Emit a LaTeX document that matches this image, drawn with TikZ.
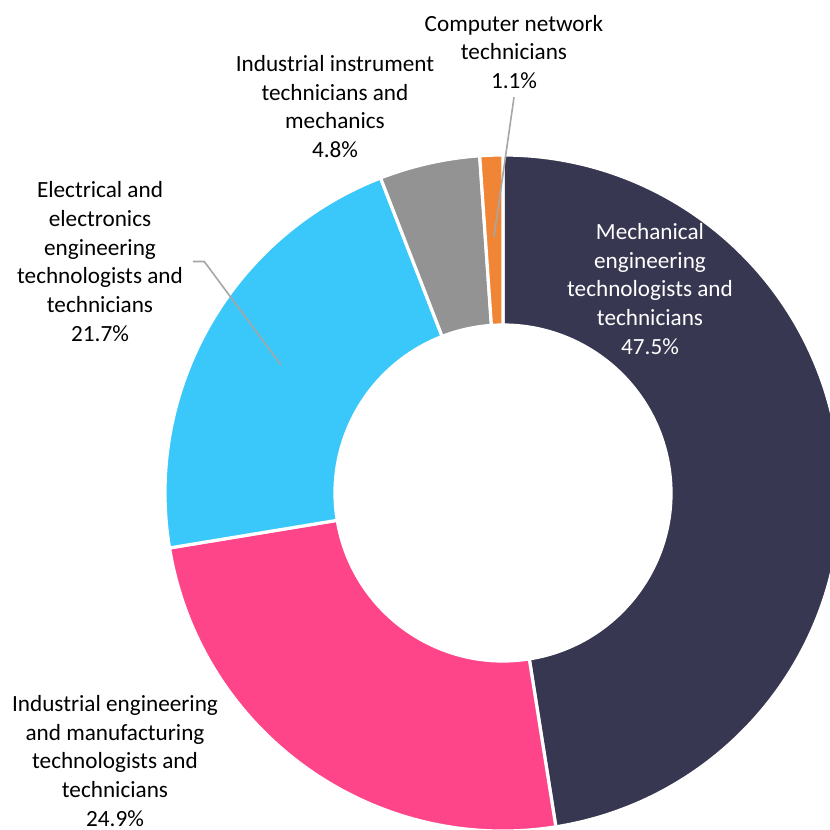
\documentclass[tikz,border=0pt]{standalone}
\usepackage{fontspec}
\setmainfont{Carlito}
\usepackage{xcolor}

\definecolor{mechnavy}{HTML}{373751}
\definecolor{indpink}{HTML}{FF4589}
\definecolor{elecblue}{HTML}{3AC8FA}
\definecolor{instrgray}{HTML}{939393}
\definecolor{comporange}{HTML}{EF8535}

\tikzset{
  slice/.style={draw=white, line width=1.6pt, line join=round},
  lbl/.style={align=center, inner sep=0pt, font=\fontsize{11.6}{14.35}\selectfont},
  leader/.style={draw=black!35, line width=0.8pt}
}

\begin{document}
\begin{tikzpicture}[x=0.5pt,y=0.5pt]
\useasboundingbox (0,0) rectangle (830,830);

\coordinate (C) at (503,337);

\fill[slice,fill=mechnavy] ([shift={(90:338)}]C) arc[start angle=90,end angle=-81,radius=338]
  -- ([shift={(-81:168)}]C) arc[start angle=-81,end angle=90,radius=168] -- cycle;
\fill[slice,fill=indpink] ([shift={(-81:338)}]C) arc[start angle=-81,end angle=-170.64,radius=338]
  -- ([shift={(-170.64:168)}]C) arc[start angle=-170.64,end angle=-81,radius=168] -- cycle;
\fill[slice,fill=elecblue] ([shift={(-170.64:338)}]C) arc[start angle=-170.64,end angle=-248.76,radius=338]
  -- ([shift={(-248.76:168)}]C) arc[start angle=-248.76,end angle=-170.64,radius=168] -- cycle;
\fill[slice,fill=instrgray] ([shift={(-248.76:338)}]C) arc[start angle=-248.76,end angle=-266.04,radius=338]
  -- ([shift={(-266.04:168)}]C) arc[start angle=-266.04,end angle=-248.76,radius=168] -- cycle;
\fill[slice,fill=comporange] ([shift={(-266.04:338)}]C) arc[start angle=-266.04,end angle=-270,radius=338]
  -- ([shift={(-270:168)}]C) arc[start angle=-270,end angle=-266.04,radius=168] -- cycle;

\node[lbl,text=white] (mech) at (650,541) {Mechanical\\engineering\\technologists and\\technicians\\47.5\%};
\node[lbl] (indeng) at (115,69) {Industrial engineering\\and manufacturing\\technologists and\\technicians\\24.9\%};
\node[lbl] (elec) at (100,568.5) {Electrical and\\electronics\\engineering\\technologists and\\technicians\\21.7\%};
\node[lbl] (instr) at (335,723.5) {Industrial instrument\\technicians and\\mechanics\\4.8\%};
\node[lbl] (comp) at (514,778) {Computer network\\technicians\\1.1\%};

\coordinate (elecend) at (281,465);
\coordinate (compend) at (494,593);

\draw[leader] ([xshift=5]elec.east) -- ++(11,0) -- (elecend);
\draw[leader] ([yshift=-4]comp.south) -- (compend);

\end{tikzpicture}
\end{document}
